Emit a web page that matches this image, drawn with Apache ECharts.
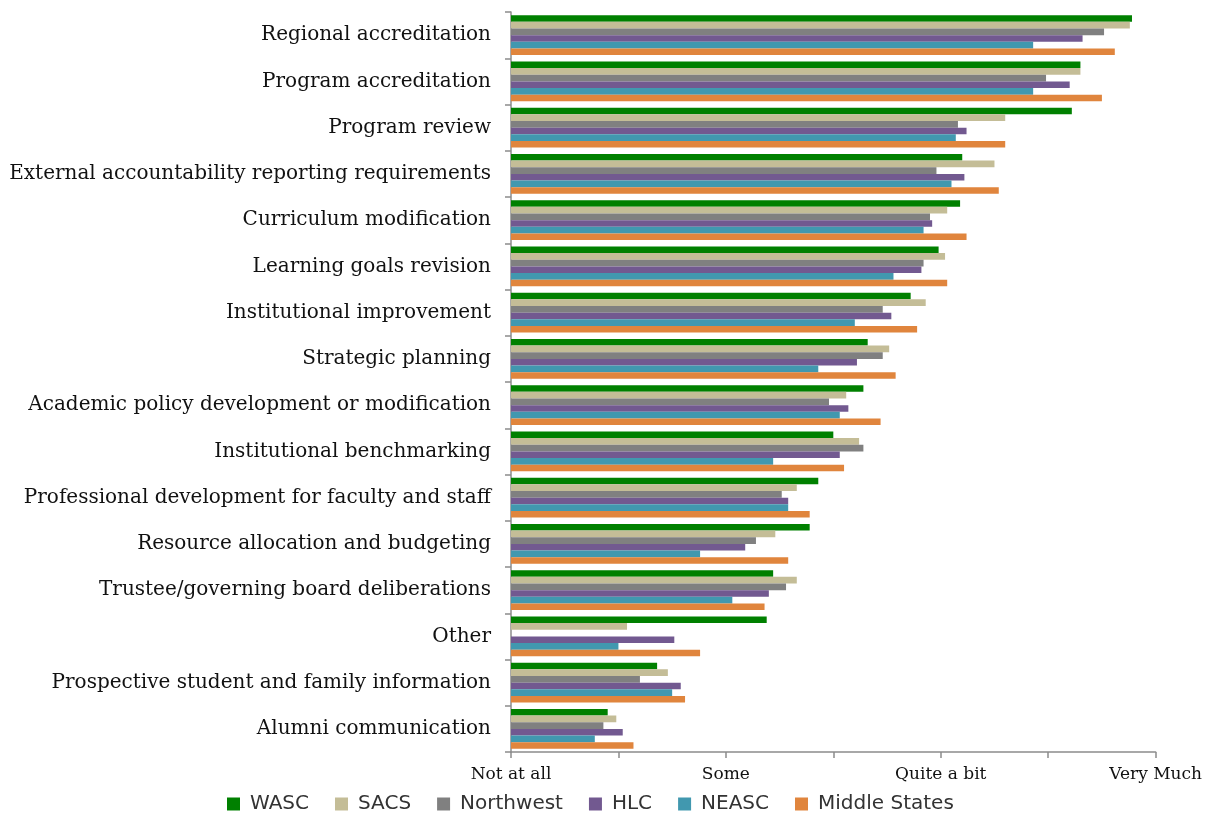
<!DOCTYPE html>
<html>
<head>
<meta charset="utf-8">
<script src="https://cdn.jsdelivr.net/npm/echarts@6/dist/echarts.min.js"></script>
<style>
  html, body { margin: 0; padding: 0; background: #fff; }
  #chart { width: 1205px; height: 813px; }
</style>
</head>
<body>
<div id="chart"></div>
<script>
// categories, top to bottom
const categories = [
  "Regional accreditation",
  "Program accreditation",
  "Program review",
  "External accountability reporting requirements",
  "Curriculum modification",
  "Learning goals revision",
  "Institutional improvement",
  "Strategic planning",
  "Academic policy development or modification",
  "Institutional benchmarking",
  "Professional development for faculty and staff",
  "Resource allocation and budgeting",
  "Trustee/governing board deliberations",
  "Other",
  "Prospective student and family information",
  "Alumni communication"
];

// 1 = Not at all, 2 = Some, 3 = Quite a bit, 4 = Very Much
const wasc      = [3.89, 3.65, 3.61, 3.10, 3.09, 2.99, 2.86, 2.66, 2.64, 2.50, 2.43, 2.39, 2.22, 2.19, 1.68, 1.45];
const sacs      = [3.88, 3.65, 3.30, 3.25, 3.03, 3.02, 2.93, 2.76, 2.56, 2.62, 2.33, 2.23, 2.33, 1.54, 1.73, 1.49];
const northwest = [3.76, 3.49, 3.08, 2.98, 2.95, 2.92, 2.73, 2.73, 2.48, 2.64, 2.26, 2.14, 2.28, null, 1.60, 1.43];
const hlc       = [3.66, 3.60, 3.12, 3.11, 2.96, 2.91, 2.77, 2.61, 2.57, 2.53, 2.29, 2.09, 2.20, 1.76, 1.79, 1.52];
const neasc     = [3.43, 3.43, 3.07, 3.05, 2.92, 2.78, 2.60, 2.43, 2.53, 2.22, 2.29, 1.88, 2.03, 1.50, 1.75, 1.39];
const midStates = [3.81, 3.75, 3.30, 3.27, 3.12, 3.03, 2.89, 2.79, 2.72, 2.55, 2.39, 2.29, 2.18, 1.88, 1.81, 1.57];

const seriesNames = ["WASC", "SACS", "Northwest", "HLC", "NEASC", "Middle States"];
const seriesData = [wasc, sacs, northwest, hlc, neasc, midStates];
const colors = ["#008000", "#c4bd97", "#808080", "#725990", "#4198af", "#e0853d"];

const tickLabels = { 1: "Not at all", 2: "Some", 3: "Quite a bit", 4: "Very Much" };

let chart = echarts.init(document.getElementById("chart"));
let option = {
  animation: false,
  color: colors,
  grid: {
    left: 511,
    right: 47,
    top: 12,
    bottom: 61
  },
  legend: {
    top: 789,
    left: 222,
    itemWidth: 13,
    itemHeight: 13,
    itemGap: 26,
    icon: "rect",
    textStyle: { fontFamily: "DejaVu Sans", fontSize: 20, color: "#333", padding: [0, 0, 0, 5] },
    data: seriesNames
  },
  xAxis: {
    type: "value",
    min: 1,
    max: 4,
    interval: 0.5,
    splitLine: { show: false },
    axisLine: { show: true, lineStyle: { color: "#8c8c8c", width: 1.5 } },
    axisTick: { show: true, length: 6, lineStyle: { color: "#8c8c8c", width: 1.5 } },
    axisLabel: {
      margin: 14,
      fontFamily: "DejaVu Serif",
      fontSize: 17,
      color: "#111",
      showMinLabel: true,
      showMaxLabel: true,
      formatter: function (v) { return tickLabels[v] || ""; }
    }
  },
  yAxis: {
    type: "category",
    inverse: true,
    data: categories,
    axisLine: { show: true, lineStyle: { color: "#8c8c8c", width: 1.5 } },
    axisTick: { show: true, length: 6, lineStyle: { color: "#8c8c8c", width: 1.5 } },
    axisLabel: {
      margin: 20,
      fontFamily: "DejaVu Serif",
      fontSize: 20,
      color: "#111"
    }
  },
  series: seriesNames.map(function (name, i) {
    return {
      name: name,
      type: "bar",
      data: seriesData[i],
      barGap: "0%",
      barCategoryGap: "14%",
      itemStyle: { color: colors[i] }
    };
  })
};
chart.setOption(option);
</script>
</body>
</html>
